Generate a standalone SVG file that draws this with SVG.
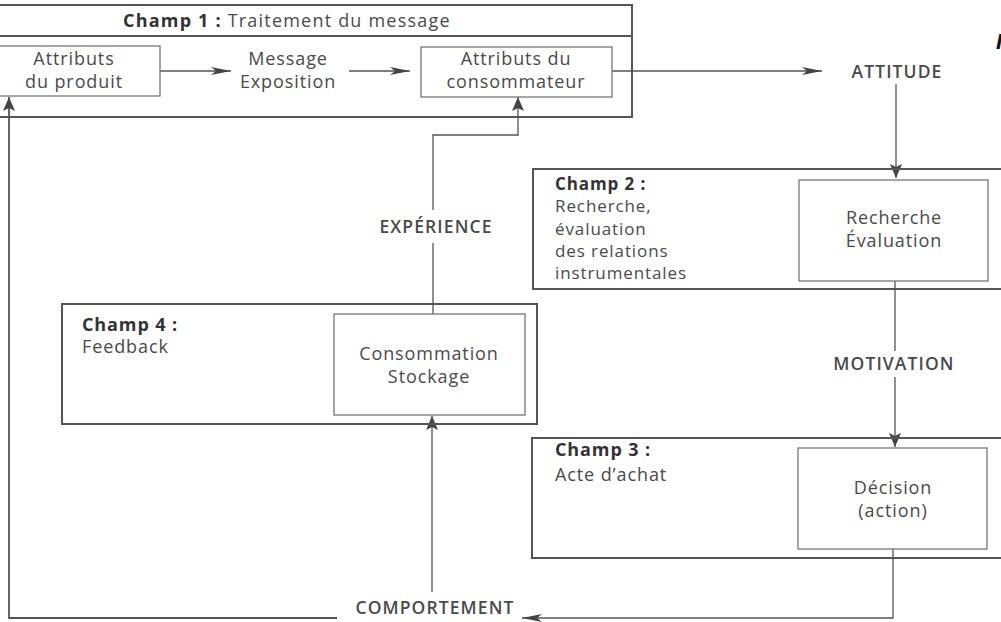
<svg xmlns="http://www.w3.org/2000/svg" width="1001" height="622" viewBox="0 0 1001 622">
<defs>
<marker id="arr" viewBox="0 0 20 10" markerWidth="20" markerHeight="10" refX="20" refY="5" orient="auto" markerUnits="userSpaceOnUse">
<path d="M0,1 L20,5 L0,9 L5,5 z" fill="#444"/>
</marker>
<marker id="arrv" viewBox="0 0 14 14" markerWidth="14" markerHeight="14" refX="14" refY="7" orient="auto" markerUnits="userSpaceOnUse">
<path d="M0,1 L14,7 L0,13 L3,7 z" fill="#444"/>
</marker>
</defs>
<style>
.outer{fill:none;stroke:#555;stroke-width:2}
.inner{fill:#fff;stroke:#777;stroke-width:1.3}
.t{font-family:"Open Sans","DejaVu Sans",sans-serif;font-size:18px;letter-spacing:0.9px;fill:#4a4a4a}
.s{font-size:17px}
.c{text-anchor:middle}
.b{font-weight:bold;fill:#333}
.cap{font-family:"Open Sans","DejaVu Sans",sans-serif;font-size:17.5px;fill:#4a4a4a;letter-spacing:1.1px;text-anchor:middle;font-weight:600}
.ln{fill:none;stroke:#555;stroke-width:1.3}
</style>
<rect x="0" y="0" width="1001" height="622" fill="#fff"/>

<g id="connectors">
<line class="ln" x1="160" y1="71" x2="231" y2="71" marker-end="url(#arr)"/>
<line class="ln" x1="349" y1="71" x2="410" y2="71" marker-end="url(#arr)"/>
<line class="ln" x1="612" y1="71" x2="822" y2="71" marker-end="url(#arr)"/>
<line class="ln" x1="896" y1="84" x2="896" y2="178" marker-end="url(#arrv)"/>
<line class="ln" x1="895" y1="281" x2="895" y2="351"/>
<line class="ln" x1="895" y1="377" x2="895" y2="447" marker-end="url(#arrv)"/>
<polyline class="ln" points="893,549 893,618 522,618" marker-end="url(#arr)"/>
<line class="ln" x1="432" y1="592" x2="432" y2="416" marker-end="url(#arrv)"/>
<polyline class="ln" points="337,618 9,618 9,97" marker-end="url(#arrv)" style="stroke-width:1.8"/>
<line class="ln" x1="433" y1="314" x2="433" y2="243"/>
<polyline class="ln" points="433,210 433,135 518,135 518,97" marker-end="url(#arrv)"/>
</g>

<g id="champ1">
<rect class="outer" x="-5" y="5" width="637" height="112"/>
<line class="outer" x1="-5" y1="36" x2="632" y2="36"/>
<text class="t" x="123" y="27" style="letter-spacing:1.2px"><tspan class="b">Champ 1 :</tspan> Traitement du message</text>
</g>
<g id="attributs-produit">
<rect class="inner" x="-2" y="46" width="162" height="50"/>
<text class="t c" x="74" y="65">Attributs</text>
<text class="t c" x="74" y="88">du produit</text>
</g>
<g id="message-exposition">
<text class="t c" x="288" y="65">Message</text>
<text class="t c" x="288" y="88">Exposition</text>
</g>
<g id="attributs-consommateur">
<rect class="inner" x="421" y="47" width="191" height="50"/>
<text class="t c" x="516" y="65">Attributs du</text>
<text class="t c" x="516" y="88">consommateur</text>
</g>
<g id="attitude">
<text class="cap" x="897" y="78">ATTITUDE</text>
</g>

<g id="champ2">
<rect class="outer" x="533" y="169" width="480" height="120"/>
<text class="t b s" x="555" y="190">Champ 2 :</text>
<text class="t s" x="555" y="212">Recherche,</text>
<text class="t s" x="555" y="235">évaluation</text>
<text class="t s" x="555" y="257">des relations</text>
<text class="t s" x="555" y="279">instrumentales</text>
</g>
<g id="recherche-evaluation">
<rect class="inner" x="799" y="180" width="189" height="101"/>
<text class="t c" x="894" y="224">Recherche</text>
<text class="t c" x="894" y="247">Évaluation</text>
</g>
<g id="motivation">
<text class="cap" x="894" y="370">MOTIVATION</text>
</g>

<g id="champ3">
<rect class="outer" x="532" y="438" width="480" height="120"/>
<text class="t b" x="555" y="456">Champ 3 :</text>
<text class="t" x="555" y="481">Acte d’achat</text>
</g>
<g id="decision">
<rect class="inner" x="798" y="448" width="189" height="101"/>
<text class="t c" x="893" y="494">Décision</text>
<text class="t c" x="893" y="517">(action)</text>
</g>

<g id="champ4">
<rect class="outer" x="62" y="304" width="475" height="120"/>
<text class="t b" x="82" y="331">Champ 4 :</text>
<text class="t" x="82" y="353">Feedback</text>
</g>
<g id="consommation-stockage">
<rect class="inner" x="334" y="314" width="191" height="101"/>
<text class="t c" x="429" y="360">Consommation</text>
<text class="t c" x="429" y="383">Stockage</text>
</g>
<g id="experience">
<text class="cap" x="436" y="233">EXPÉRIENCE</text>
</g>
<g id="comportement">
<text class="cap" x="435" y="614">COMPORTEMENT</text>
</g>
<text x="996" y="49" style="font-family:'Liberation Sans',sans-serif;font-size:22px;font-style:italic;font-weight:bold;fill:#111">I</text>
</svg>
